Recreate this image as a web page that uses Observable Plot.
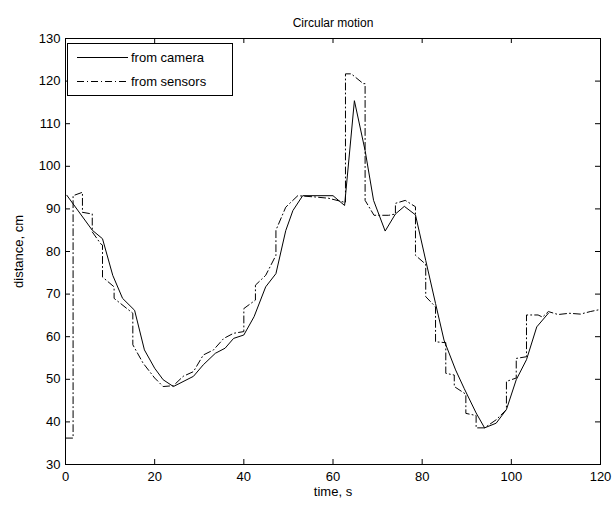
<!DOCTYPE html>
<html>
<head>
<meta charset="utf-8">
<script src="https://cdn.jsdelivr.net/npm/d3@7"></script>
<script src="https://cdn.jsdelivr.net/npm/@observablehq/plot@0.6"></script>
<style>
  body { margin: 0; background: white; }
  #chart { width: 614px; height: 508px; }
</style>
</head>
<body>
<div id="chart"></div>
<script>
const titleText = "Circular motion";
const xLabel = "time, s";
const yLabel = "distance, cm";
const seriesNames = ["from camera", "from sensors"];
const xTicks = [0, 20, 40, 60, 80, 100, 120];
const yTicks = [30, 40, 50, 60, 70, 80, 90, 100, 110, 120, 130];

const timeCamera = [0.3, 6.0, 8.3, 10.6, 12.8, 15.5, 17.7, 20.0, 21.9, 24.2, 28.7, 30.9, 33.6, 35.8, 37.7, 40.0, 42.3, 44.9, 47.2, 49.4, 51.0, 53.2, 60.0, 62.6, 64.8, 67.2, 69.1, 71.7, 74.0, 76.0, 78.5, 80.8, 83.0, 84.9, 87.5, 89.4, 92.1, 94.0, 96.6, 98.9, 101.1, 103.4, 105.7, 108.3];
const distCamera = [93.2, 85.0, 83.0, 74.4, 69.0, 66.2, 56.9, 52.6, 49.9, 48.3, 50.7, 53.4, 56.1, 57.3, 59.6, 60.4, 64.7, 71.7, 74.8, 84.9, 89.6, 93.1, 93.1, 90.8, 115.4, 103.7, 92.0, 84.8, 88.8, 90.6, 88.6, 77.9, 67.8, 59.2, 52.2, 47.9, 42.1, 38.6, 39.7, 42.9, 49.9, 54.6, 62.3, 65.5];

const timeSensors = [0, 1.7, 1.7, 3.8, 3.8, 6.0, 6.0, 7.9, 8.3, 8.3, 10.9, 10.9, 15.1, 15.1, 17.4, 20.0, 21.9, 24.2, 26.4, 28.7, 30.9, 33.2, 35.5, 37.7, 40.0, 40.0, 42.6, 42.6, 44.9, 47.2, 47.2, 49.4, 52.1, 56.0, 59.0, 62.8, 62.8, 64.1, 66.8, 67.2, 67.2, 69.2, 72.5, 74.0, 74.0, 76.2, 78.5, 78.5, 80.8, 80.8, 83.0, 83.0, 85.3, 85.3, 87.2, 87.2, 89.8, 89.8, 92.1, 92.1, 94.0, 96.6, 98.9, 98.9, 101.1, 101.1, 103.4, 103.4, 106.0, 107.0, 108.3, 110.5, 113.0, 115.5, 117.7, 120.0];
const distSensors = [36.2, 36.2, 93.1, 93.9, 89.2, 88.8, 84.6, 81.8, 81.5, 74.0, 71.7, 69.0, 65.5, 58.1, 53.8, 50.3, 48.3, 48.5, 50.7, 51.8, 55.7, 56.9, 59.6, 60.8, 61.2, 66.6, 68.6, 72.1, 74.4, 79.1, 85.0, 90.4, 93.1, 92.8, 92.5, 91.5, 121.7, 121.7, 119.4, 119.4, 92.0, 88.5, 88.5, 88.8, 91.3, 92.0, 90.5, 79.1, 77.0, 69.4, 67.0, 58.8, 58.6, 51.4, 51.0, 48.3, 46.5, 42.0, 41.5, 38.6, 38.6, 40.5, 42.9, 49.5, 50.3, 54.9, 55.3, 65.1, 65.1, 64.6, 65.9, 65.2, 65.5, 65.3, 65.9, 66.4];

const camera = timeCamera.map((t, i) => ({t, d: distCamera[i]}));
const sensors = timeSensors.map((t, i) => ({t, d: distSensors[i]}));
const dashDot = "7,3,1,3";

const svg = Plot.plot({
  width: 614,
  height: 508,
  marginLeft: 65,
  marginRight: 14,
  marginTop: 38,
  marginBottom: 44,
  x: {domain: [0, 120]},
  y: {domain: [30, 130]},
  style: {fontFamily: "'Liberation Sans', Arial, sans-serif", fontSize: "13px", color: "black", background: "white"},
  marks: [
    Plot.line(camera, {x: "t", y: "d", stroke: "black", strokeWidth: 1}),
    Plot.line(sensors, {x: "t", y: "d", stroke: "black", strokeWidth: 1, strokeDasharray: dashDot}),
    Plot.tickX(xTicks, {x: d => d, insetTop: 421, stroke: "black"}),
    Plot.tickX(xTicks, {x: d => d, insetBottom: 421, stroke: "black"}),
    Plot.tickY(yTicks, {y: d => d, insetRight: 530, stroke: "black"}),
    Plot.tickY(yTicks, {y: d => d, insetLeft: 530, stroke: "black"}),
    Plot.axisX({ticks: xTicks, tickSize: 0, tickPadding: 7, label: xLabel, labelAnchor: "center", labelArrow: "none", labelOffset: 31, fontSize: 13}),
    Plot.axisY({ticks: yTicks, tickSize: 0, tickPadding: 5, label: yLabel, labelAnchor: "center", labelArrow: "none", labelOffset: 52, fontSize: 13}),
    Plot.frame({stroke: "black"}),
    Plot.text([titleText], {frameAnchor: "top", dy: -20, fontSize: 12})
  ]
});

// Legend box (MATLAB style, upper left)
const g = d3.select(svg).append("g")
  .attr("font-family", "'Liberation Sans', Arial, sans-serif")
  .attr("font-size", 13)
  .attr("text-anchor", "start");
g.append("rect").attr("x", 67.5).attr("y", 43.5).attr("width", 165).attr("height", 52)
  .attr("fill", "white").attr("stroke", "black");
const rows = [{name: seriesNames[0], dash: null, y: 57.5}, {name: seriesNames[1], dash: dashDot, y: 81.5}];
rows.forEach(r => {
  const l = g.append("line").attr("x1", 77).attr("x2", 128).attr("y1", r.y).attr("y2", r.y).attr("stroke", "black");
  if (r.dash) l.attr("stroke-dasharray", r.dash);
  g.append("text").attr("x", 131).attr("y", r.y).attr("dy", "0.35em").attr("text-anchor", "start").text(r.name);
});

document.getElementById("chart").appendChild(svg);
</script>
</body>
</html>
